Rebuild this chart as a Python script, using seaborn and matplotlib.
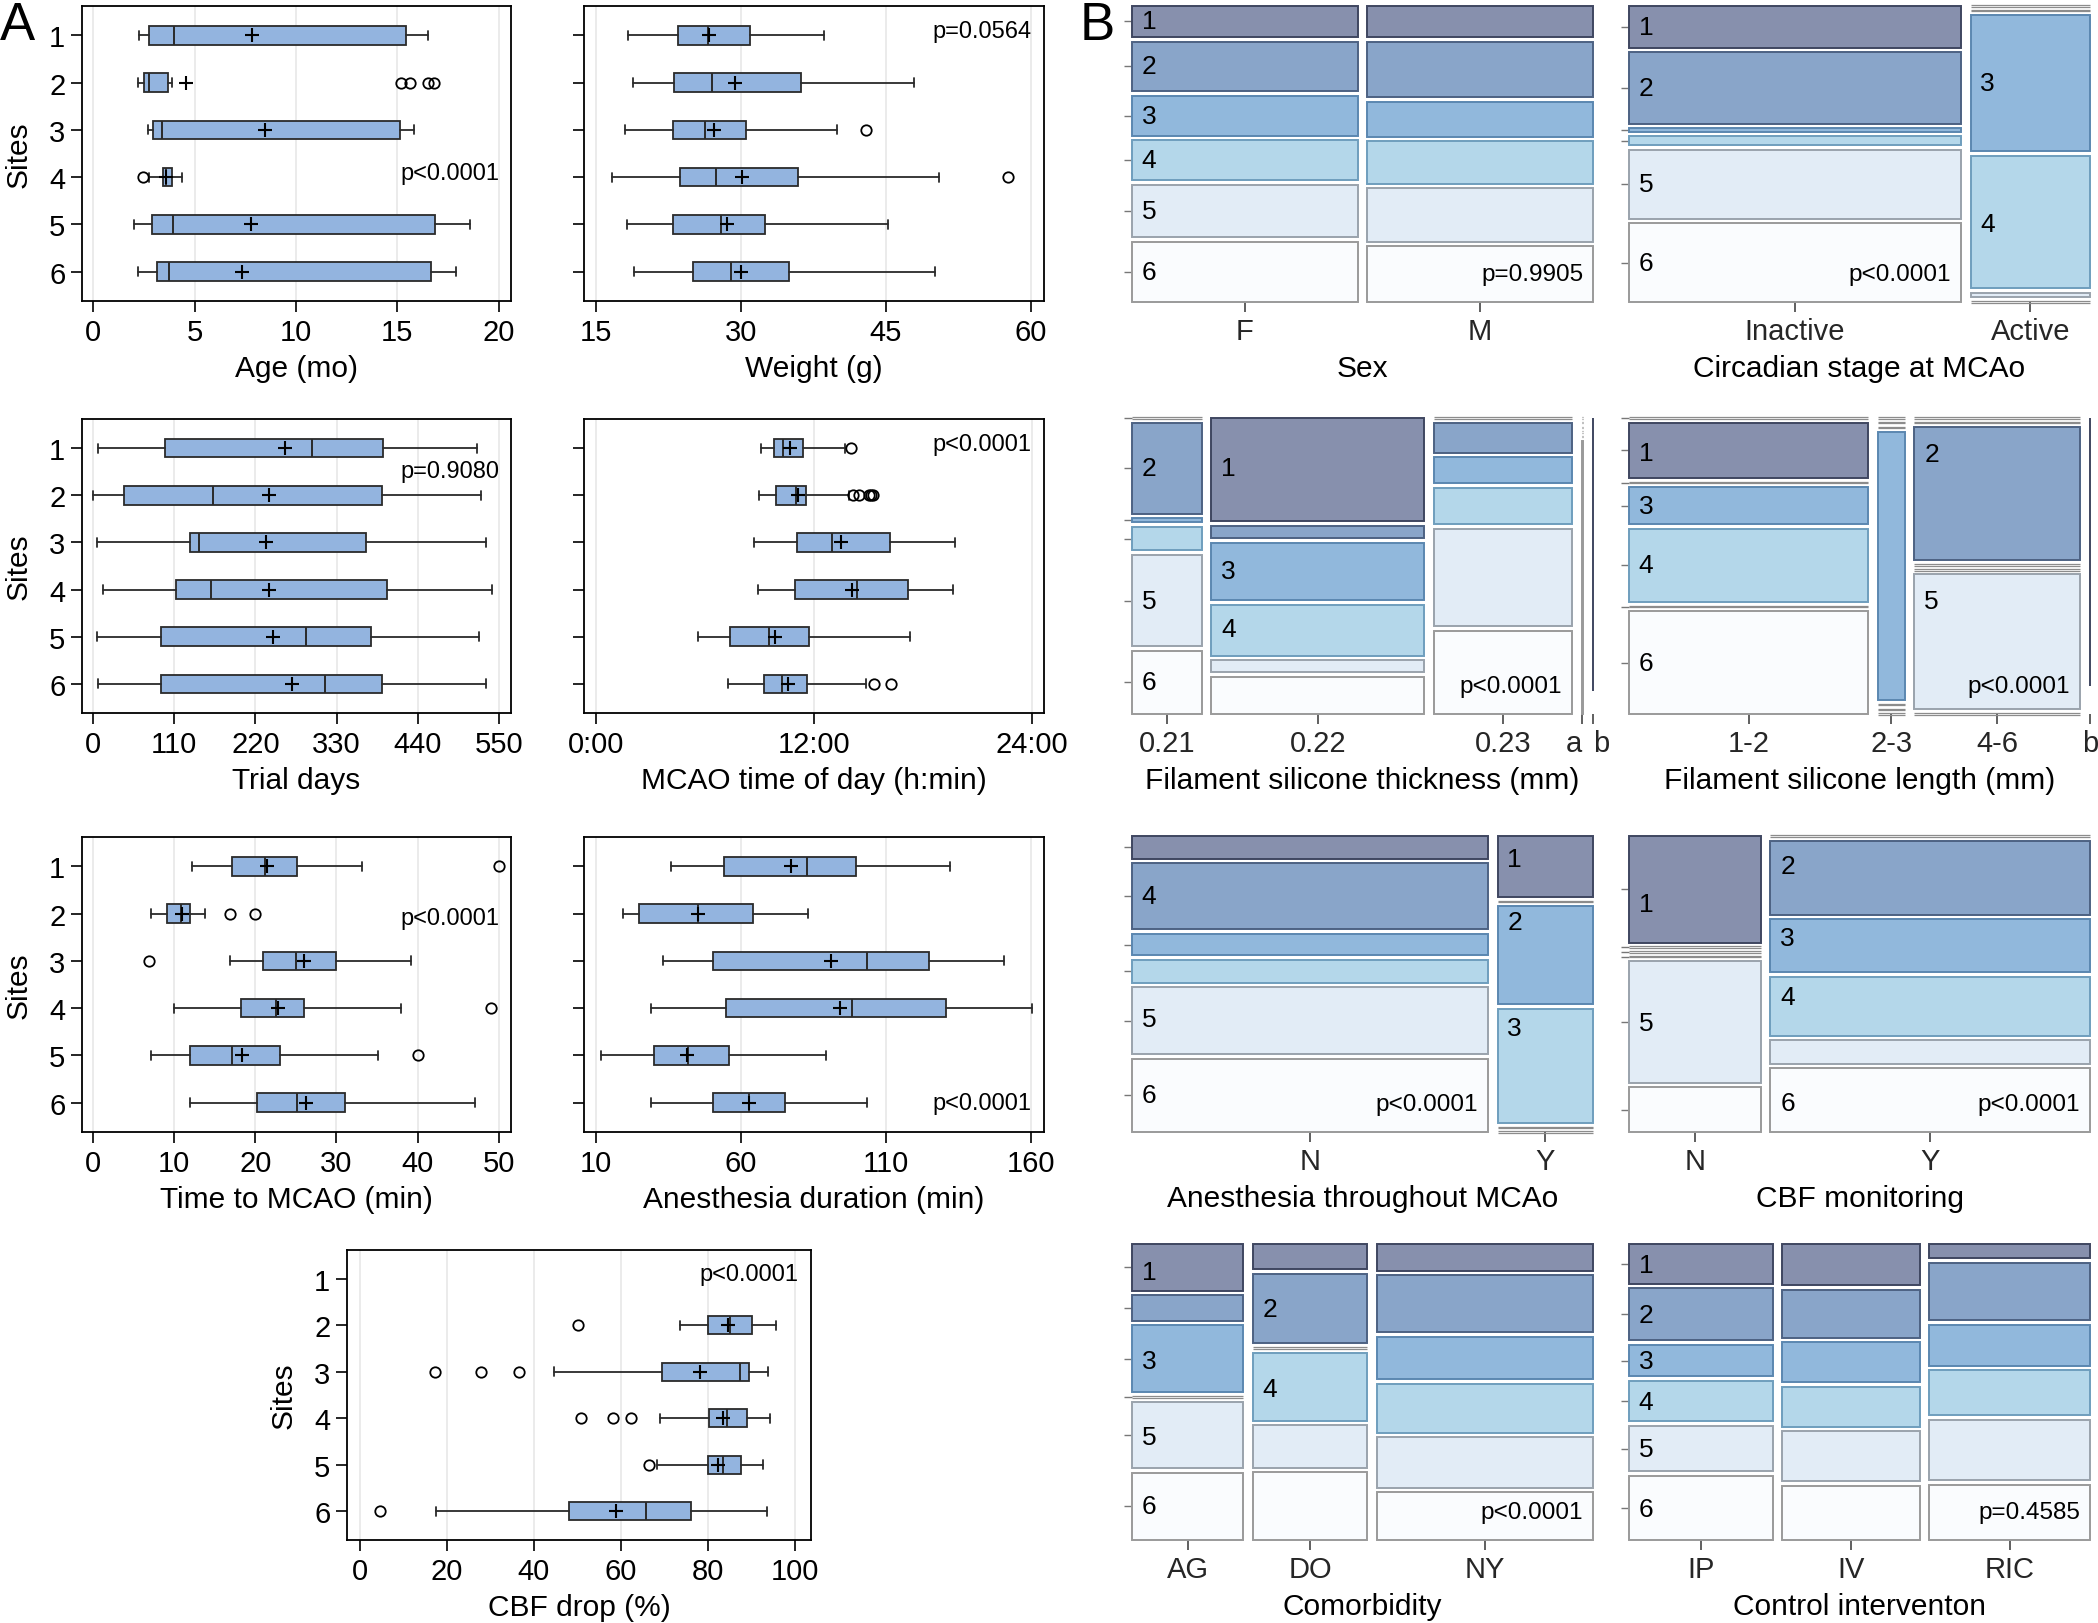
import matplotlib
matplotlib.use('Agg')
import matplotlib.pyplot as plt
import seaborn as sns

sns.set_theme(style='white')
plt.rcParams['font.family'] = ['Liberation Sans', 'DejaVu Sans']

W, H = 2098, 1624
sites = [1, 2, 3, 4, 5, 6]

# ---------------- panel A : box plot summaries per site
# each row: lower whisker, q1, median, q3, upper whisker
age_box = [[2.24, 2.73, 4.00, 15.40, 16.5], [2.2, 2.5, 2.75, 3.7, 3.9], [2.7, 2.97, 3.4, 15.15, 15.8],
           [2.75, 3.42, 3.6, 3.9, 4.37], [2.0, 2.9, 3.93, 16.86, 18.6], [2.2, 3.14, 3.76, 16.66, 17.9]]
age_mean = [7.85, 4.57, 8.45, 3.6, 7.8, 7.36]
age_out = [[], [15.2, 15.6, 16.5, 16.8], [], [2.47], [], []]

weight_box = [[18.3, 23.55, 26.6, 31.0, 38.6], [18.9, 23.1, 27.0, 36.2, 47.9], [18.0, 23.0, 26.3, 30.5, 40.0],
              [16.7, 23.7, 27.4, 35.9, 50.5], [18.2, 23.0, 28.0, 32.5, 45.2], [19.0, 25.1, 29.0, 35.0, 50.1]]
weight_mean = [26.7, 29.4, 27.2, 30.1, 28.6, 30.0]
weight_out = [[], [], [43.0], [57.6], [], []]

trial_box = [[7, 98, 297, 393, 520], [0, 42, 162, 392, 526], [6, 132, 144, 370, 533],
             [13, 112, 160, 398, 540], [6, 92, 289, 377, 523], [7, 92, 314, 392, 533]]
trial_mean = [260, 239, 234, 238, 244, 269]
trial_out = [[], [], [], [], [], []]

mcao_box = [[9.09, 9.8, 10.32, 11.4, 13.73], [9.0, 9.92, 11.04, 11.59, 13.94], [8.74, 11.11, 13.02, 16.2, 19.78],
            [8.96, 10.98, 14.36, 17.17, 19.68], [5.66, 7.42, 9.57, 11.73, 17.33], [7.29, 9.27, 10.28, 11.66, 14.86]]
mcao_mean = [10.7, 11.13, 13.5, 14.12, 9.86, 10.58]
mcao_out = [[14.07], [14.16, 14.52, 15.02, 15.17, 15.28], [], [], [], [15.35, 16.25]]

time_box = [[12.2, 17.1, 21.2, 25.1, 33.1], [7.2, 9.1, 10.9, 12.0, 13.8], [16.9, 21.0, 25.0, 30.0, 39.2],
            [10.0, 18.2, 22.5, 26.0, 38.0], [7.1, 12.0, 17.1, 23.1, 35.1], [12.0, 20.2, 25.1, 31.1, 47.1]]
time_mean = [21.5, 11.0, 26.0, 22.8, 18.3, 26.2]
time_out = [[50.0], [16.9, 20.0], [6.9], [49.0], [40.0], []]

anest_box = [[35.9, 54.0, 82.7, 99.8, 132.2], [19.3, 24.8, 45.2, 64.2, 83.1], [33.1, 50.3, 103.5, 124.8, 150.7],
             [29.0, 54.9, 98.4, 130.8, 160.5], [11.9, 29.9, 41.9, 55.8, 89.2], [29.0, 50.3, 62.8, 75.3, 103.5]]
anest_mean = [77.1, 45.2, 91.0, 94.3, 41.5, 62.8]
anest_out = [[], [], [], [], [], []]

cbf_box = [None, [73.5, 80.0, 85.0, 90.2, 95.7], [44.6, 69.5, 87.4, 89.5, 93.8],
           [68.9, 80.3, 84.3, 88.9, 94.2], [68.3, 80.0, 83.4, 87.7, 92.6], [17.5, 48.0, 65.8, 76.0, 93.5]]
cbf_mean = [None, 84.6, 78.2, 83.4, 82.2, 58.8]
cbf_out = [[], [50.2], [17.2, 27.7, 36.6], [50.8, 58.2, 62.2], [66.5], [4.6]]

# ---------------- panel B : mosaic plots (column sizes, per-column site shares)
sex_groups = ['F', 'M']
sex_sizes = [677, 678]
sex_cells = [[93, 148, 120, 121, 157, 180], [93, 166, 104, 127, 159, 167]]

circ_groups = ['Inactive', 'Active']
circ_sizes = [996, 358]
circ_cells = [[125, 213, 10, 27, 206, 235], [0, 0, 405, 395, 14, 0]]

thick_groups = ['0.21', '0.22', '0.23', 'a', 'b']
thick_sizes = [208, 637, 412, 4, 1]
thick_cells = [[0, 272, 12, 70, 273, 189], [309, 38, 171, 153, 36, 111], [0, 90, 77, 109, 292, 249],
               [0, 0, 0, 0, 0, 1], [1, 0, 0, 0, 0, 0]]

length_groups = ['1-2', '2-3', '4-6', 'b']
length_sizes = [716, 80, 495, 1]
length_rows = [1, 1, 2, 3, 4, 5, 6]
length_cells = [[0, 165, 0, 110, 217, 0, 306], [0, 0, 0, 799, 0, 0, 0],
                [0, 0, 397, 0, 0, 402, 0], [1, 0, 0, 0, 0, 0, 0]]

anes_groups = ['N', 'Y']
anes_sizes = [1068, 286]
anes_cells = [[68, 198, 64, 68, 199, 220], [182, 0, 293, 339, 0, 0]]

mon_groups = ['N', 'Y']
mon_sizes = [395, 958]
mon_cells = [[318, 0, 0, 0, 363, 133], [0, 221, 157, 176, 70, 190]]

com_groups = ['AG', 'DO', 'NY']
com_sizes = [334, 343, 648]
com_cells = [[139, 76, 200, 0, 199, 201], [75, 209, 0, 203, 127, 203], [80, 169, 127, 145, 151, 142]]

ctl_groups = ['IP', 'IV', 'RIC']
ctl_sizes = [431, 411, 482]
ctl_cells = [[119, 154, 95, 119, 137, 191], [124, 143, 120, 118, 150, 162], [43, 172, 122, 135, 181, 165]]

# labels inside cells: (column, row, text, vertical position within cell)
sex_labels = [(0, i, str(i + 1), 0.5) for i in range(6)]
circ_labels = [(0, 0, '1', .5), (0, 1, '2', .5), (0, 4, '5', .5), (0, 5, '6', .5), (1, 2, '3', .5), (1, 3, '4', .52)]
thick_labels = [(0, 1, '2', .5), (0, 4, '5', .5), (0, 5, '6', .5), (1, 0, '1', .49), (1, 2, '3', .49), (1, 3, '4', .47)]
length_labels = [(0, 1, '1', .55), (0, 3, '3', .5), (0, 4, '4', .5), (0, 6, '6', .5), (2, 2, '2', .2), (2, 5, '5', .2)]
anes_labels = [(0, 1, '4', .5), (0, 4, '5', .47), (0, 5, '6', .5), (1, 0, '1', .37), (1, 2, '2', .16), (1, 3, '3', .17)]
mon_labels = [(0, 0, '1', .64), (0, 4, '5', .51), (1, 1, '2', .34), (1, 2, '3', .35), (1, 3, '4', .34), (1, 5, '6', .55)]
com_labels = [(0, 0, '1', .6), (0, 2, '3', .53), (0, 4, '5', .53), (0, 5, '6', .5), (1, 1, '2', .51), (1, 3, '4', .53)]
ctl_labels = [(0, i, str(i + 1), 0.52) for i in range(6)]

site_fill = ['#8790ad', '#89a5c9', '#91b8dc', '#b4d7ea', '#e2ecf6', '#fafcfe']
site_edge = ['#3f4660', '#4d6283', '#5b87b0', '#6f9ebd', '#9aa3ac', '#9a9a9a']
box_fill = '#93b4df'

fig = plt.figure(figsize=(W / 100, H / 100), dpi=100)


def px(l, t, r, b):
    return [l / W, 1 - b / H, (r - l) / W, (b - t) / H]


def boxpanel(rect, box, mean, out, xlim, ticks, xlabel, ptext, py, left, ticklabels=None):
    ax = fig.add_axes(px(*rect))
    pos, stats, mm = [], [], []
    for s, b, m, o in zip(sites, box, mean, out):
        if b is None:
            continue
        pos.append(s)
        mm.append(m)
        stats.append(dict(whislo=b[0], q1=b[1], med=b[2], q3=b[3], whishi=b[4], fliers=o, label=str(s)))
    for t in ticks:
        ax.axvline(t, color='#e9e9e9', lw=1.3, zorder=0)
    kw = dict(positions=pos, widths=0.39, patch_artist=True, zorder=2,
              boxprops=dict(facecolor=box_fill, edgecolor='#2a2a2a', linewidth=1.3),
              medianprops=dict(color='#2a2a2a', linewidth=1.4),
              whiskerprops=dict(color='#2a2a2a', linewidth=1.3),
              capprops=dict(color='#2a2a2a', linewidth=1.3),
              flierprops=dict(marker='o', markerfacecolor='none', markeredgecolor='black',
                              markersize=7.5, markeredgewidth=1.3))
    try:
        ax.bxp(stats, orientation='horizontal', **kw)
    except TypeError:
        ax.bxp(stats, vert=False, **kw)
    sns.scatterplot(x=mm, y=pos, marker='+', s=100, color='black', linewidth=1.5,
                    ax=ax, zorder=5, legend=False)
    ax.set_xlim(*xlim)
    ax.set_ylim(6.62, 0.38)
    ax.set_xticks(ticks)
    ax.set_xticklabels(ticklabels if ticklabels else [str(t) for t in ticks])
    ax.set_yticks(sites)
    ax.set_yticklabels([str(s) for s in sites] if left else [])
    ax.tick_params(axis='both', bottom=True, left=True, direction='out', length=8, width=1.2,
                   color='black', labelsize=21, pad=4, labelcolor='black')
    for sp in ax.spines.values():
        sp.set_visible(True)
        sp.set_color('black')
        sp.set_linewidth(1.3)
    ax.set_xlabel(xlabel, fontsize=21.5, labelpad=6, color='black')
    ax.set_ylabel('Sites' if left else '', fontsize=21.5, labelpad=12, color='black')
    ax.grid(False)
    ax.text(0.972, py, ptext, transform=ax.get_yaxis_transform(), ha='right', va='center',
            fontsize=17, color='black')
    return ax


def mosaic(rect, groups, sizes, cells, labels, xlabel, ptext, pcol, rows=None):
    ax = fig.add_axes(px(*rect))
    rows = rows or sites
    gx, gy = 29 / 1383, 14 / 888
    ux = 1 - gx * (len(groups) - 1)
    uy = 1 - gy * (len(rows) - 1)
    geom, xc, ytk = {}, [], []
    x = 0
    for i, col in enumerate(cells):
        w = sizes[i] / sum(sizes) * ux
        y = 0
        for r, c in enumerate(col):
            s = rows[r] - 1
            h = c / sum(col) * uy
            if h > 0:
                ax.bar(x, h, width=w, bottom=y, align='edge', color=site_fill[s],
                       edgecolor=site_edge[s], linewidth=1.4, clip_on=False)
            else:
                ax.hlines([y - 0.0025, y + 0.0025], x, x + w, color='#8c8c8c', lw=0.9, clip_on=False)
            geom[(i, r)] = (x, y, w, h)
            if i == 0:
                ytk.append(y + h / 2)
            y += h + gy
        xc.append(x + w / 2)
        x += w + gx
    for c, r, t, f in labels:
        x0, y0, w, h = geom[(c, r)]
        ax.annotate(t, xy=(x0, y0 + f * h), xytext=(7, 0), textcoords='offset points',
                    ha='left', va='center', fontsize=19, color='black')
    x0, y0, w, h = geom[(pcol, len(rows) - 1)]
    ax.annotate(ptext, xy=(x0 + w, 1.0), xytext=(-7, 20), textcoords='offset points',
                ha='right', va='center', fontsize=17.5, color='black')
    ax.set_xlim(0, 1)
    ax.set_ylim(1, 0)
    ax.set_xticks(xc)
    ax.set_xticklabels(groups)
    # narrow neighbouring columns: keep their labels side by side
    if 'a' in groups and 'b' in groups:
        for tl in ax.get_xticklabels():
            if tl.get_text() == 'a':
                tl.set_horizontalalignment('right')
            elif tl.get_text() == 'b':
                tl.set_horizontalalignment('left')
    ax.set_yticks(ytk)
    ax.set_yticklabels([])
    ax.tick_params(axis='x', bottom=True, length=7, width=1.2, color='#444', labelsize=21, pad=4)
    ax.tick_params(axis='y', left=True, length=6, width=1.0, color='#777')
    for sp in ax.spines.values():
        sp.set_visible(False)
    ax.grid(False)
    ax.set_facecolor('none')
    ax.set_xlabel(xlabel, fontsize=21.5, labelpad=6, color='black')
    return ax


boxpanel((82, 7, 511, 302), age_box, age_mean, age_out, (-0.55, 20.6), [0, 5, 10, 15, 20],
         'Age (mo)', 'p<0.0001', 3.91, True)
boxpanel((584, 7, 1044, 302), weight_box, weight_mean, weight_out, (13.8, 61.35), [15, 30, 45, 60],
         'Weight (g)', 'p=0.0564', 0.9, False)
boxpanel((82, 420, 511, 714), trial_box, trial_mean, trial_out, (-14.9, 566.3),
         [0, 110, 220, 330, 440, 550], 'Trial days', 'p=0.9080', 1.48, True)
boxpanel((584, 420, 1044, 714), mcao_box, mcao_mean, mcao_out, (-0.64, 24.68), [0, 12, 24],
         'MCAO time of day (h:min)', 'p<0.0001', 0.9, False, ['0:00', '12:00', '24:00'])
boxpanel((82, 838, 511, 1133), time_box, time_mean, time_out, (-1.35, 51.5), [0, 10, 20, 30, 40, 50],
         'Time to MCAO (min)', 'p<0.0001', 2.1, True)
boxpanel((584, 838, 1044, 1133), anest_box, anest_mean, anest_out, (5.9, 164.5), [10, 60, 110, 160],
         'Anesthesia duration (min)', 'p<0.0001', 6.0, False)
boxpanel((347, 1251, 811, 1541), cbf_box, cbf_mean, cbf_out, (-3.0, 103.7), [0, 20, 40, 60, 80, 100],
         'CBF drop (%)', 'p<0.0001', 0.9, True)

mosaic((1132, 7, 1593, 303), sex_groups, sex_sizes, sex_cells, sex_labels, 'Sex', 'p=0.9905', 1)
mosaic((1629, 7, 2090, 303), circ_groups, circ_sizes, circ_cells, circ_labels,
       'Circadian stage at MCAo', 'p<0.0001', 0)
mosaic((1132, 419, 1593, 715), thick_groups, thick_sizes, thick_cells, thick_labels,
       'Filament silicone thickness (mm)', 'p<0.0001', 2)
mosaic((1629, 419, 2090, 715), length_groups, length_sizes, length_cells, length_labels,
       'Filament silicone length (mm)', 'p<0.0001', 2, rows=length_rows)
mosaic((1132, 837, 1593, 1133), anes_groups, anes_sizes, anes_cells, anes_labels,
       'Anesthesia throughout MCAo', 'p<0.0001', 0)
mosaic((1629, 837, 2090, 1133), mon_groups, mon_sizes, mon_cells, mon_labels,
       'CBF monitoring', 'p<0.0001', 1)
mosaic((1132, 1245, 1593, 1541), com_groups, com_sizes, com_cells, com_labels,
       'Comorbidity', 'p<0.0001', 2)
mosaic((1629, 1245, 2090, 1541), ctl_groups, ctl_sizes, ctl_cells, ctl_labels,
       'Control interventon', 'p=0.4585', 2)

fig.text(0.0, 1 - 1 / H, 'A', fontsize=38, ha='left', va='top', color='black')
fig.text(1080 / W, 1 - 1 / H, 'B', fontsize=38, ha='left', va='top', color='black')

fig.savefig('out.png', dpi=100, facecolor='white')
